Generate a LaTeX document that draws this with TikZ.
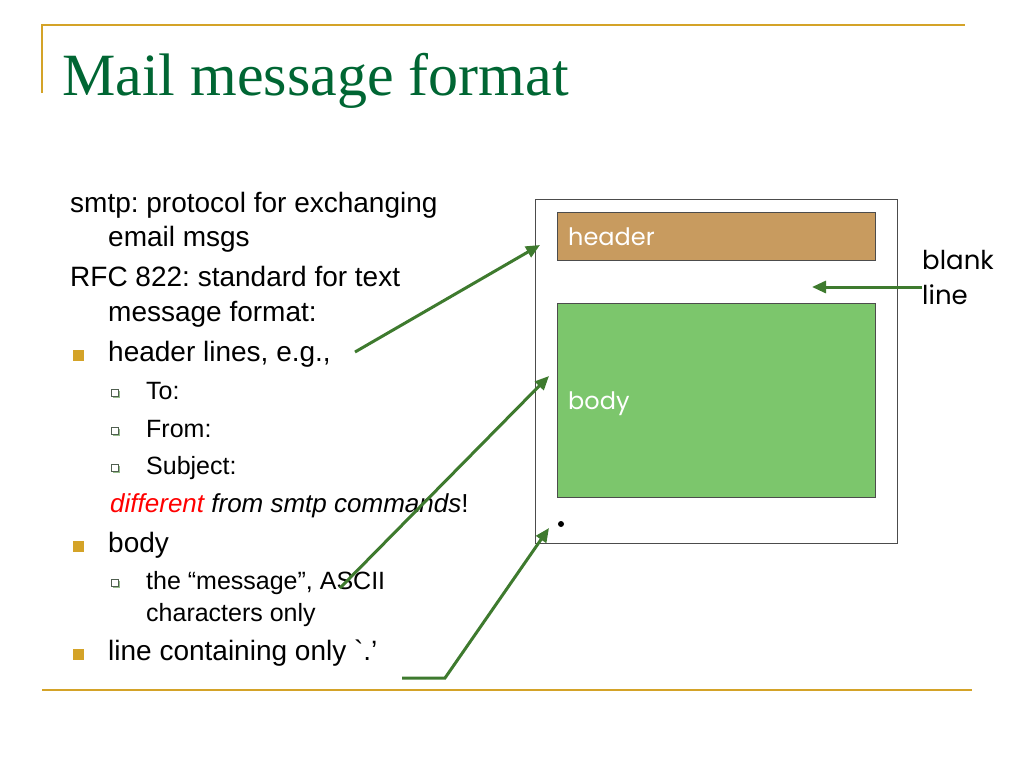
\documentclass[tikz,border=0pt]{standalone}
\usepackage{fontspec}
\setmainfont{Liberation Sans}
\newfontfamily\titlefont{Liberation Serif}
\newfontfamily\handfont{Poppins}
\usetikzlibrary{arrows.meta}
\frenchspacing
\newcommand\gravemark{{\addfontfeatures{Ligatures=TeXOff}`}}

\definecolor{titlegreen}{RGB}{0,102,51}
\definecolor{rulegold}{RGB}{212,163,40}
\definecolor{headerfill}{RGB}{200,155,95}
\definecolor{bodyfill}{RGB}{124,198,108}
\definecolor{arrowgreen}{RGB}{62,122,46}
\definecolor{subgray}{RGB}{80,95,80}
\definecolor{subshade}{RGB}{150,190,140}

\tikzset{
  line/.style={anchor=base west,inner sep=0pt,font=\fontsize{28}{34}\selectfont},
  subline/.style={anchor=base west,inner sep=0pt,font=\fontsize{25}{30}\selectfont},
  mainbullet/.style={fill=rulegold,inner sep=0pt,minimum size=11pt},
  subbullet/.style={draw=subgray,fill=white,line width=1pt,inner sep=0pt,minimum size=7pt},
  subshadow/.style={fill=subshade,inner sep=0pt,minimum size=7pt},
  pointer/.style={arrowgreen,line width=3pt,-{Triangle[length=14pt,width=12pt]}},
  part/.style={draw=black!70,line width=1pt,anchor=north west,inner sep=0pt},
  label/.style={anchor=base west,inner sep=0pt,text=white,font=\handfont\fontsize{24}{28}\selectfont}
}

\begin{document}
\begin{tikzpicture}[x=1pt,y=-1pt]
  \useasboundingbox (0,0) rectangle (1024,768);

  % frame lines
  \draw[rulegold,line width=2pt] (42,93) -- (42,25) -- (965,25);
  \draw[rulegold,line width=2pt] (42,690) -- (972,690);

  \node[anchor=base west,inner sep=0pt,text=titlegreen,
        font=\titlefont\fontsize{60}{70}\selectfont] (title) at (62,95) {Mail message format};

  % left text
  \node[line] (smtp)  at (70,212)  {smtp: protocol for exchanging};
  \node[line] (email) at (108,246) {email msgs};
  \node[line] (rfc)   at (70,286)  {RFC 822: standard for text};
  \node[line] (fmt)   at (108,321) {message format:};
  \node[line] (hdr)   at (108,361) {header lines, e.g.,};
  \node[subline] (to)   at (146,399) {To:};
  \node[subline] (from) at (146,437) {From:};
  \node[subline] (subj) at (146,474) {Subject:};
  \node[subline,font=\fontsize{26}{30}\selectfont] (diff) at (110,512)
    {\itshape\textcolor{red}{different} from smtp commands\upshape!};
  \node[line] (body)  at (108,552) {body};
  \node[subline] (ascii) at (146,589) {the “message”, ASCII};
  \node[subline] (chars) at (146,621) {characters only};
  \node[line] (dot)   at (108,660) {line containing only \gravemark.’};

  % bullets
  \node[mainbullet] (b1) at (78,355) {};
  \node[mainbullet] (b2) at (78,546) {};
  \node[mainbullet] (b3) at (78,654) {};
  \foreach \y/\n in {393/s1,431/s2,468/s3,583/s4}{
    \node[subshadow] at (116.5,\y+1.5) {};
    \node[subbullet] (\n) at (115,\y) {};
  }

  % message
  \node[part,minimum width=362pt,minimum height=344pt] (msg) at (535,199) {};
  \node[part,fill=headerfill,minimum width=318pt,minimum height=48pt] (head) at (557,212) {};
  \node[part,fill=bodyfill,minimum width=318pt,minimum height=194pt] (bodybox) at (557,303) {};
  \node[label] at (568,245) {header};
  \node[label] at (568,409) {body};
  \fill (561,524) circle (3pt);
  \node[anchor=base west,inner sep=0pt,align=left,font=\handfont\fontsize{26}{35}\selectfont]
    (blank) at (922,304) {blank\\line};

  % pointers
  \coordinate (hdrtip)  at (540,245);
  \coordinate (bodytip) at (549,376);
  \coordinate (dottip)  at (549,528);
  \coordinate (blanktip) at (812,287);
  \draw[pointer] (355,352) -- (hdrtip);
  \draw[pointer] (340,588) -- (bodytip);
  \draw[pointer] (402,678) -- (445,678) -- (dottip);
  \draw[pointer] (blank.west |- blanktip) -- (blanktip);
\end{tikzpicture}
\end{document}
